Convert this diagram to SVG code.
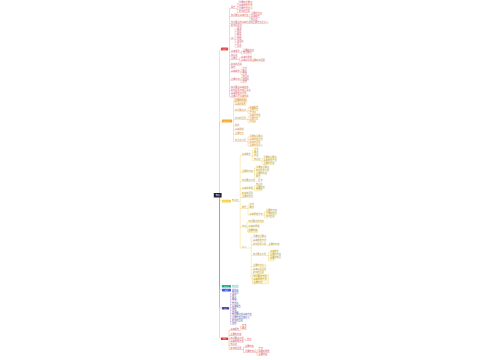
<svg xmlns="http://www.w3.org/2000/svg" width="500" height="360" viewBox="0 0 500 360">
<style>
text{font-family:"Noto Sans CJK SC","Noto Sans",sans-serif;font-size:2.2px;opacity:.85}
.bt{font-size:1.6px;fill:#fff;text-anchor:middle}
path{fill:none}
.n path{stroke-width:.3}
#links path{stroke-width:.35}
.r text{fill:#d05a5a}.r path,.lr{stroke:#ef8a8a}
.o text{fill:#c58a30}.o path,.lo{stroke:#f6b352}
.y text{fill:#a88c20}.y path,.ly{stroke:#eccb48}
.t text{fill:#139d85}.t path{stroke:#48c9b0}
.b text{fill:#3f5ad0}.b path{stroke:#6f86e8}
.p text{fill:#5a4d9f}.p path,.lp{stroke:#9b8fd0}
.z text{fill:#d04a3b}.z path,.lz{stroke:#ee7b7b}
.n text.bt{fill:#fff;opacity:1}
</style>
<rect width="500" height="360" fill="#fff"/>
<g id="links">
<path stroke="#f7c27a" d="M219.5 193V123Q219.5 121 222 121"/>
<path stroke="#f09a9a" d="M219.5 193V51Q219.5 49 221.5 49"/>
<path stroke="#ee7b7b" d="M219.5 197.5V336.8Q219.5 338.8 221.5 338.8"/>
<path stroke="#48c9b0" d="M219.5 197.5V284.3Q219.5 286.3 222 286.3"/>
<path stroke="#6f86e8" d="M219.5 197.5V288Q219.5 290 222 290"/>
<path stroke="#8e80c0" d="M219.5 197.5V306.3Q219.5 308.3 222 308.3"/>
<path stroke="#f1d35a" d="M220 197.5V199.5Q220 201 222 201"/>
<path class="lr" d="M228 49h1.5M229.5 8.5V97M229.5 8.5h1.5M229.5 16.5h1.5M229.5 23.5h1.5M229.5 26.3h1.5M229.5 39h1.5M229.5 52.5h1.5M229.5 56h1.5M229.5 59.5h1.5M229.5 65h1.5M229.5 68h1.5M229.5 72h1.5M229.5 80h1.5M229.5 88h1.5M229.5 91h1.5M229.5 94h1.5M229.5 97h1.5"/>
<path class="lr" d="M235.4 8.5H237.2M237.2 3.5V12.5M237.2 3.5H239M237.2 6.5H239M237.2 9.5H239M237.2 12.5H239"/>
<path class="lr" d="M248.6 16.5H249.8M249.8 14.5V20.5M249.8 14.5H251M249.8 17.5H251M249.8 20.5H251"/>
<path class="lr" d="M233.2 39H235.1M235.1 29V47.2M235.1 29H237M235.1 31.6H237M235.1 34.2H237M235.1 36.8H237M235.1 39.4H237M235.1 42H237M235.1 44.6H237M235.1 47.2H237"/>
<path class="lr" d="M239.8 52.5H241.4M241.4 51.1V53.9M241.4 51.1H243M241.4 53.9H243"/>
<path class="lr" d="M237.6 59.5H239.3M239.3 58V61M239.3 58H241M239.3 61H241"/>
<path class="lr" d="M239.8 72H241M241 69.3V74.7M241 69.3H242.5M241 72H242.5M241 74.7H242.5"/>
<path class="lr" d="M239.8 80H241M241 77.3V82.7M241 77.3H242.5M241 80H242.5M241 82.7H242.5"/>
<path class="lo" d="M232 121h1.5M233.5 101.5V141.5M233.5 101.5H235M233.5 105H235M233.5 111H235M233.5 119.5H235M233.5 126H235M233.5 130H235M233.5 134.5H235M233.5 141.5H235"/>
<path class="lo" d="M246 111H248M248 108V113.6M248 108H249.5M248 110.8H249.5M248 113.6H249.5"/>
<path class="lo" d="M246 119.5H248M248 116.7V122.3M248 116.7H249.5M248 119.5H249.5M248 122.3H249.5"/>
<path class="lo" d="M246 141.5H248M248 137V146M248 137H249.5M248 140H249.5M248 143H249.5M248 146H249.5"/>
<path class="ly" d="M238.6 201.5H240.2M240.2 155.5V248M240.2 155.5H242M240.2 172H242M240.2 181.5H242M240.2 189H242M240.2 194H242M240.2 197.5H242M240.2 208.5H242M240.2 227H242M240.2 248H242"/>
<path class="ly" d="M250.8 155.5H252.4M252.4 150.3V160.5M252.4 150.3H254M252.4 153H254M252.4 156H254M252.4 160.5H254M260.6 160.5H262M262 158.5V164.5M262 158.5H263.5M262 161.5H263.5M262 164.5H263.5"/>
<path class="ly" d="M253 172H254.5M254.5 168V177.3M254.5 168H256M254.5 171H256M254.5 174H256M254.5 177.3H256"/>
<path class="ly" d="M255.2 181.5H258"/>
<path class="ly" d="M253 189H254.5M254.5 185.5V190.9M254.5 185.5H256M254.5 188.2H256M254.5 190.9H256"/>
<path class="ly" d="M246.4 208.5H248M248 205V215M248 205H249.5M248 208H249.5M248 215H249.5M262.7 215H264.5M264.5 211.8V217.8M264.5 211.8H266M264.5 214.8H266M264.5 217.8H266"/>
<path class="ly" d="M246.4 227H247.2M247.2 222.5V231.5M247.2 222.5H248.5M247.2 227H248.5M247.2 231.5H248"/>
<path class="ly" d="M246.4 248H251.2M251.2 237.5V279.2M251.2 237.5H253M251.2 241.3H253M251.2 245H253M251.2 255.5H253M251.2 266.5H253M251.2 270H253M251.2 273.5H253M251.2 279.2H252.5M266.2 245H268.5M266.2 255.5H268.5M268.5 252.5V260.9M268.5 252.5H270M268.5 255.3H270M268.5 258.1H270M268.5 260.9H270"/>
<path class="lp" d="M229 308.3h1.5M230.5 293.5V324.3M230.5 293.5H232M230.5 296.3H232M230.5 299.1H232M230.5 301.9H232M230.5 304.7H232M230.5 307.5H232M230.5 310.3H232M230.5 313.1H232M230.5 315.9H232M230.5 318.7H232M230.5 321.5H232M230.5 324.3H232"/>
<path class="lz" d="M228 338.8h1M229 330.5V349.5M229 330.5H230.5M229 335.5H230.5M229 339.2H230.5M229 342H230.5M229 345.5H230.5M229 349.5H230.5"/>
<path class="lz" d="M239.3 330.5H240.5M240.5 326.3V329M240.5 326.3H242M240.5 329H242"/>
<path class="lz" d="M243.7 339.2H245.5M245.5 339.2V340.5H247"/>
<path class="lz" d="M241.5 349.5H243.5M243.5 347V352.5M243.5 347H245M243.5 352.5H245M256 352.5H257M257 349.8V355.2M257 349.8H258.5M257 352.5H258.5M257 355.2H258.5"/>
</g>
<g id="root"><rect x="213.8" y="193" width="7.8" height="4.6" rx=".4" fill="#1f1f3d"/><text class="bt" x="217.7" y="195.9" style="font-size:2px;opacity:1">知识</text></g>
<g class="n r">
<g id="red-main"><rect x="221" y="47.5" width="7" height="3" rx=".4" fill="#e5484d"/><text class="bt" x="224.5" y="49.6">要点</text></g>
<g id="r1"><text x="231" y="8">概念</text><path d="M231 8.5h4.4"/></g>
<g id="r1a"><rect x="238.6" y="1.3" width="14" height="2.6" fill="none" stroke="#f4b4b4" stroke-width=".2"/><text x="239" y="3">重要知识要点</text></g>
<g id="r1b"><rect x="238.6" y="4.3" width="14" height="2.6" fill="none" stroke="#f4b4b4" stroke-width=".2"/><text x="239" y="6">基本原理方法</text></g>
<g id="r1c"><rect x="238.6" y="7.3" width="14" height="2.6" fill="none" stroke="#f4b4b4" stroke-width=".2"/><text x="239" y="9">主要特点意义</text></g>
<g id="r1d"><text x="239" y="12">影响的因素</text><path d="M239 12.5h11"/></g>
<g id="r2"><text x="231" y="16">知识要点基本内容</text><path d="M231 16.5h17.6"/></g>
<g id="r2a"><text x="251" y="14">主要的内容</text><path d="M251 14.5h11"/></g>
<g id="r2b"><text x="251" y="17">基本概念</text><path d="M251 17.5h8.8"/></g>
<g id="r2c"><text x="251" y="20">知识点</text><path d="M251 20.5h6.6"/></g>
<g id="r3"><text x="231" y="23">知识要点的基本内容和主要特点及意义</text><path d="M231 23.5h37.4"/></g>
<g id="r4"><text x="231" y="25.8">影响因素等</text><path d="M231 26.3h11"/></g>
<g id="r5"><text x="231" y="38.5">点</text><path d="M231 39h2.2"/></g>
<g id="r5a"><text x="237" y="28.5">方法</text><path d="M237 29h4.4"/></g>
<g id="r5b"><text x="237" y="31.1">要点</text><path d="M237 31.6h4.4"/></g>
<g id="r5c"><text x="237" y="33.7">概念</text><path d="M237 34.2h4.4"/></g>
<g id="r5d"><text x="237" y="36.3">特点</text><path d="M237 36.8h4.4"/></g>
<g id="r5e"><text x="237" y="38.9">原理</text><path d="M237 39.4h4.4"/></g>
<g id="r5f"><text x="237" y="41.5">作用等</text><path d="M237 42h6.6"/></g>
<g id="r5g"><text x="237" y="44.1">意义</text><path d="M237 44.6h4.4"/></g>
<g id="r5h"><text x="237" y="46.7">形式</text><path d="M237 47.2h4.4"/></g>
<g id="r6"><text x="231" y="52">基本概念</text><path d="M231 52.5h8.8"/></g>
<g id="r6a"><text x="243" y="50.6">主要的内容</text><path d="M243 51.1h11"/></g>
<g id="r6b"><text x="243" y="53.4">知识要点</text><path d="M243 53.9h8.8"/></g>
<g id="r7"><text x="231" y="55.5">知识点</text><path d="M231 56h6.6"/></g>
<g id="r8"><text x="231" y="59">主要点</text><path d="M231 59.5h6.6"/></g>
<g id="r8a"><text x="241" y="57.5">基本的原理</text><path d="M241 58h11"/></g>
<g id="r8b"><text x="241" y="60.5">基本条件和主要影响因素</text><path d="M241 61h24.2"/></g>
<g id="r9"><text x="231" y="64.5">影响的因素</text><path d="M231 65h11"/></g>
<g id="r10"><text x="231" y="67.5">概念</text><path d="M231 68h4.4"/></g>
<g id="r11"><text x="231" y="71.5">基本概念</text><path d="M231 72h8.8"/></g>
<g id="r11a"><text x="242.5" y="68.8">方法</text><path d="M242.5 69.3h4.4"/></g>
<g id="r11b"><text x="242.5" y="71.5">要点</text><path d="M242.5 72h4.4"/></g>
<g id="r11c"><text x="242.5" y="74.2">特点</text><path d="M242.5 74.7h4.4"/></g>
<g id="r12"><text x="231" y="79.5">主要内容</text><path d="M231 80h8.8"/></g>
<g id="r12a"><text x="242.5" y="76.8">知识点</text><path d="M242.5 77.3h6.6"/></g>
<g id="r12b"><text x="242.5" y="79.5">原理等</text><path d="M242.5 80h6.6"/></g>
<g id="r12c"><text x="242.5" y="82.2">结构</text><path d="M242.5 82.7h4.4"/></g>
<g id="r13"><text x="231" y="87.5">知识要点基本内容</text><path d="M231 88h17.6"/></g>
<g id="r14"><text x="231" y="90.5">影响因素与相互关系</text><path d="M231 91h19.8"/></g>
<g id="r15"><text x="231" y="93.5">基本原理与方法</text><path d="M231 94h15.4"/></g>
<g id="r16"><text x="231" y="96.5">主要问题及其作用</text><path d="M231 97h17.6"/></g>
</g>
<g class="n o">
<g id="orange-main"><rect x="222" y="119.5" width="10" height="3" rx=".4" fill="#f5a623"/><text class="bt" x="227" y="121.6">知识要点</text></g>
<g id="o1"><rect x="234.3" y="98.6" width="12.4" height="3.6" rx=".3" fill="#fdebd0" stroke="#f5a623" stroke-width=".3"/><text x="235" y="101">主要的内容</text></g>
<g id="o2"><text x="235" y="104.5">基本的概念</text><path d="M235 105h11"/></g>
<g id="o3"><text x="235" y="110.5">知识要点等</text><path d="M235 111h11"/></g>
<g id="o3a"><text x="249.5" y="107.5">基本概念</text><path d="M249.5 108h8.8"/></g>
<g id="o3b"><text x="249.5" y="110.3">主要特点</text><path d="M249.5 110.8h8.8"/></g>
<g id="o3c"><text x="249.5" y="113.1">方法等</text><path d="M249.5 113.6h6.6"/></g>
<g id="o4"><text x="235" y="119">影响的因素</text><path d="M235 119.5h11"/></g>
<g id="o4a"><text x="249.5" y="116.2">基本的原理</text><path d="M249.5 116.7h11"/></g>
<g id="o4b"><text x="249.5" y="119">主要内容</text><path d="M249.5 119.5h8.8"/></g>
<g id="o4c"><text x="249.5" y="121.8">作用等</text><path d="M249.5 122.3h6.6"/></g>
<g id="o5"><text x="235" y="125.5">概念</text><path d="M235 126h4.4"/></g>
<g id="o6"><text x="235" y="129.5">基本原理</text><path d="M235 130h8.8"/></g>
<g id="o7"><text x="235" y="134">主要特点</text><path d="M235 134.5h8.8"/></g>
<g id="o8"><text x="235" y="141">知识点分析</text><path d="M235 141.5h11"/></g>
<g id="o8a"><text x="249.5" y="136.5">重要知识要点</text><path d="M249.5 137h13.2"/></g>
<g id="o8b"><text x="249.5" y="139.5">基本原理方法</text><path d="M249.5 140h13.2"/></g>
<g id="o8c"><text x="249.5" y="142.5">影响的因素</text><path d="M249.5 143h11"/></g>
<g id="o8d"><text x="249.5" y="145.5">主要特点意义</text><path d="M249.5 146h13.2"/></g>
</g>
<g class="n y">
<g id="yellow-main"><rect x="222" y="199.7" width="9" height="2.8" rx=".4" fill="#f4d03f"/><text class="bt" x="226.5" y="201.7">知识要点</text></g>
<g id="ys"><text x="232" y="201">知识点</text><path d="M232 201.5h6.6"/></g>
<g id="y1"><text x="242" y="155">基本概念</text><path d="M242 155.5h8.8"/></g>
<g id="y1a"><text x="254" y="149.8">方法</text><path d="M254 150.3h4.4"/></g>
<g id="y1b"><text x="254" y="152.5">要点</text><path d="M254 153h4.4"/></g>
<g id="y1c"><text x="254" y="155.5">特点</text><path d="M254 156h4.4"/></g>
<g id="y1d"><text x="254" y="160">知识点</text><path d="M254 160.5h6.6"/></g>
<g id="y1d1"><text x="263.5" y="158">重要知识要点</text><path d="M263.5 158.5h13.2"/></g>
<g id="y1d2"><text x="263.5" y="161">基本原理方法</text><path d="M263.5 161.5h13.2"/></g>
<g id="y1d3"><text x="263.5" y="164">主要的内容</text><path d="M263.5 164.5h11"/></g>
<g id="y2"><text x="242" y="171.5">主要的内容</text><path d="M242 172h11"/></g>
<g id="y2a"><text x="256" y="167.5">重要知识要点</text><path d="M256 168h13.2"/></g>
<g id="y2b"><text x="256" y="170.5">影响因素分析</text><path d="M256 171h13.2"/></g>
<g id="y2c"><text x="256" y="173.5">主要的特点</text><path d="M256 174h11"/></g>
<g id="y2d"><text x="256" y="176.8">概念</text><path d="M256 177.3h4.4"/></g>
<g id="y3"><text x="242" y="181">知识要点分析</text><path d="M242 181.5h13.2"/></g>
<g id="y3a"><text x="258" y="181">方法</text><path d="M258 181.5h4.4"/></g>
<g id="y4"><text x="242" y="188.5">基本的原理</text><path d="M242 189h11"/></g>
<g id="y4a"><text x="256" y="185">知识点</text><path d="M256 185.5h6.6"/></g>
<g id="y4b"><text x="256" y="187.7">主要内容</text><path d="M256 188.2h8.8"/></g>
<g id="y4c"><text x="256" y="190.4">作用等</text><path d="M256 190.9h6.6"/></g>
<g id="y5"><text x="242" y="193.5">影响的因素</text><path d="M242 194h11"/></g>
<g id="y6"><text x="242" y="197">主要的特点</text><path d="M242 197.5h11"/></g>
<g id="y7"><text x="242" y="208">概念</text><path d="M242 208.5h4.4"/></g>
<g id="y7a"><text x="249.5" y="204.5">方法</text><path d="M249.5 205h4.4"/></g>
<g id="y7b"><text x="249.5" y="207.5">要点</text><path d="M249.5 208h4.4"/></g>
<g id="y7c"><text x="249.5" y="214.5">基本原理方法</text><path d="M249.5 215h13.2"/></g>
<g id="y7c1"><text x="266" y="211.3">主要的内容</text><path d="M266 211.8h11"/></g>
<g id="y7c2"><text x="266" y="214.3">重要的知识</text><path d="M266 214.8h11"/></g>
<g id="y7c3"><text x="266" y="217.3">影响因素</text><path d="M266 217.8h8.8"/></g>
<g id="y8"><text x="242" y="226.5">特点</text><path d="M242 227h4.4"/></g>
<g id="y8a"><text x="248.5" y="222">知识要点的内容</text><path d="M248.5 222.5h15.4"/></g>
<g id="y8b"><text x="248.5" y="226.5">基本的原理</text><path d="M248.5 227h11"/></g>
<g id="y8c"><rect x="248" y="229.2" width="9.8" height="3.2" rx=".3" fill="#fcf3cf" stroke="#eccb48" stroke-width=".3"/><text x="248.5" y="231.4">主要内容</text></g>
<g id="y9"><text x="242" y="247.5">意义</text><path d="M242 248h4.4"/></g>
<g id="y9a"><text x="253" y="237">重要知识要点</text><path d="M253 237.5h13.2"/></g>
<g id="y9b"><text x="253" y="240.8">基本原理方法</text><path d="M253 241.3h13.2"/></g>
<g id="y9c"><text x="253" y="244.5">影响因素分析</text><path d="M253 245h13.2"/></g>
<g id="y9c1"><text x="268.5" y="244.5">主要的内容</text><path d="M268.5 245h11"/></g>
<g id="y9d"><text x="253" y="255">知识要点分析</text><path d="M253 255.5h13.2"/></g>
<g id="y9d1"><text x="270" y="252">基本概念</text><path d="M270 252.5h8.8"/></g>
<g id="y9d2"><text x="270" y="254.8">主要的内容</text><path d="M270 255.3h11"/></g>
<g id="y9d3"><text x="270" y="257.6">重要的知识</text><path d="M270 258.1h11"/></g>
<g id="y9d4"><text x="270" y="260.4">方法</text><path d="M270 260.9h4.4"/></g>
<g id="y9e"><text x="253" y="266">主要特点意义</text><path d="M253 266.5h13.2"/></g>
<g id="y9f"><text x="253" y="269.5">基本条件因素</text><path d="M253 270h13.2"/></g>
<g id="y9g"><text x="253" y="273">影响的因素</text><path d="M253 273.5h11"/></g>
<g id="y9h"><rect x="252.5" y="274.6" width="16" height="9.2" rx=".3" fill="#fdf6d8" stroke="#eccb48" stroke-width=".3"/><text x="253.5" y="277.1">知识要点内容</text><text x="253.5" y="279.9">基本原理方法</text><text x="253.5" y="282.7">主要特点</text></g>
</g>
<g class="n t">
<g id="teal-main"><rect x="222" y="285" width="9" height="2.6" rx=".4" fill="#17a589"/><text class="bt" x="226.5" y="286.9">知识点</text></g>
<g id="t1"><text x="232" y="286.8">知识点</text><path d="M232 287.3h6.6"/></g>
</g>
<g class="n b">
<g id="blue-main"><rect x="222" y="288.8" width="9" height="2.6" rx=".4" fill="#3b5bdb"/><text class="bt" x="226.5" y="290.7">概念</text></g>
<g id="b1"><text x="232" y="290.5">概念等</text><path d="M232 291h6.6"/></g>
</g>
<g class="n p">
<g id="purple-main"><rect x="222" y="307" width="7" height="2.6" rx=".4" fill="#4c3d99"/><text class="bt" x="225.5" y="308.9">要点</text></g>
<g id="p1"><text x="232" y="293">知识点</text><path d="M232 293.5h6.6"/></g>
<g id="p2"><text x="232" y="295.8">概念</text><path d="M232 296.3h4.4"/></g>
<g id="p3"><text x="232" y="298.6">要点</text><path d="M232 299.1h4.4"/></g>
<g id="p4"><text x="232" y="301.4">方法</text><path d="M232 301.9h4.4"/></g>
<g id="p5"><text x="232" y="304.2">特点等</text><path d="M232 304.7h6.6"/></g>
<g id="p6"><text x="232" y="307">基本概念</text><path d="M232 307.5h8.8"/></g>
<g id="p7"><text x="232" y="309.8">原理</text><path d="M232 310.3h4.4"/></g>
<g id="p8"><text x="232" y="312.6">作用等</text><path d="M232 313.1h6.6"/></g>
<g id="p9"><text x="232" y="315.4">知识要点的基本内容</text><path d="M232 315.9h19.8"/></g>
<g id="p10"><text x="232" y="318.2">主要特点及其意义</text><path d="M232 318.7h17.6"/></g>
<g id="p11"><text x="232" y="321">影响的因素</text><path d="M232 321.5h11"/></g>
<g id="p12"><text x="232" y="323.8">结构</text><path d="M232 324.3h4.4"/></g>
</g>
<g class="n z">
<g id="red2-main"><rect x="221" y="337.5" width="7" height="2.6" rx=".4" fill="#e03131"/><text class="bt" x="224.5" y="339.4">总结</text></g>
<g id="z1"><text x="230.5" y="330">基本概念</text><path d="M230.5 330.5h8.8"/></g>
<g id="z1a"><text x="242" y="325.8">方法</text><path d="M242 326.3h4.4"/></g>
<g id="z1b"><text x="242" y="328.5">要点</text><path d="M242 329h4.4"/></g>
<g id="z2"><text x="230.5" y="335">主要的内容</text><path d="M230.5 335.5h11"/></g>
<g id="z3"><text x="230.5" y="338.7">知识要点分析</text><path d="M230.5 339.2h13.2"/></g>
<g id="z3a"><text x="247" y="340">特点</text><path d="M247 340.5h4.4"/></g>
<g id="z4"><text x="230.5" y="341.5">基本原理方法</text><path d="M230.5 342h13.2"/></g>
<g id="z5"><text x="230.5" y="345">知识点</text><path d="M230.5 345.5h6.6"/></g>
<g id="z6"><text x="230.5" y="349">影响的因素</text><path d="M230.5 349.5h11"/></g>
<g id="z6a"><text x="245" y="346.5">主要内容</text><path d="M245 347h8.8"/></g>
<g id="z6b"><text x="245" y="352">重要的知识</text><path d="M245 352.5h11"/></g>
<g id="z6b1"><text x="258.5" y="349.3">方法</text><path d="M258.5 349.8h4.4"/></g>
<g id="z6b2"><text x="258.5" y="352">基本的原理</text><path d="M258.5 352.5h11"/></g>
<g id="z6b3"><text x="258.5" y="354.7">主要内容</text><path d="M258.5 355.2h8.8"/></g>
</g>
</svg>
